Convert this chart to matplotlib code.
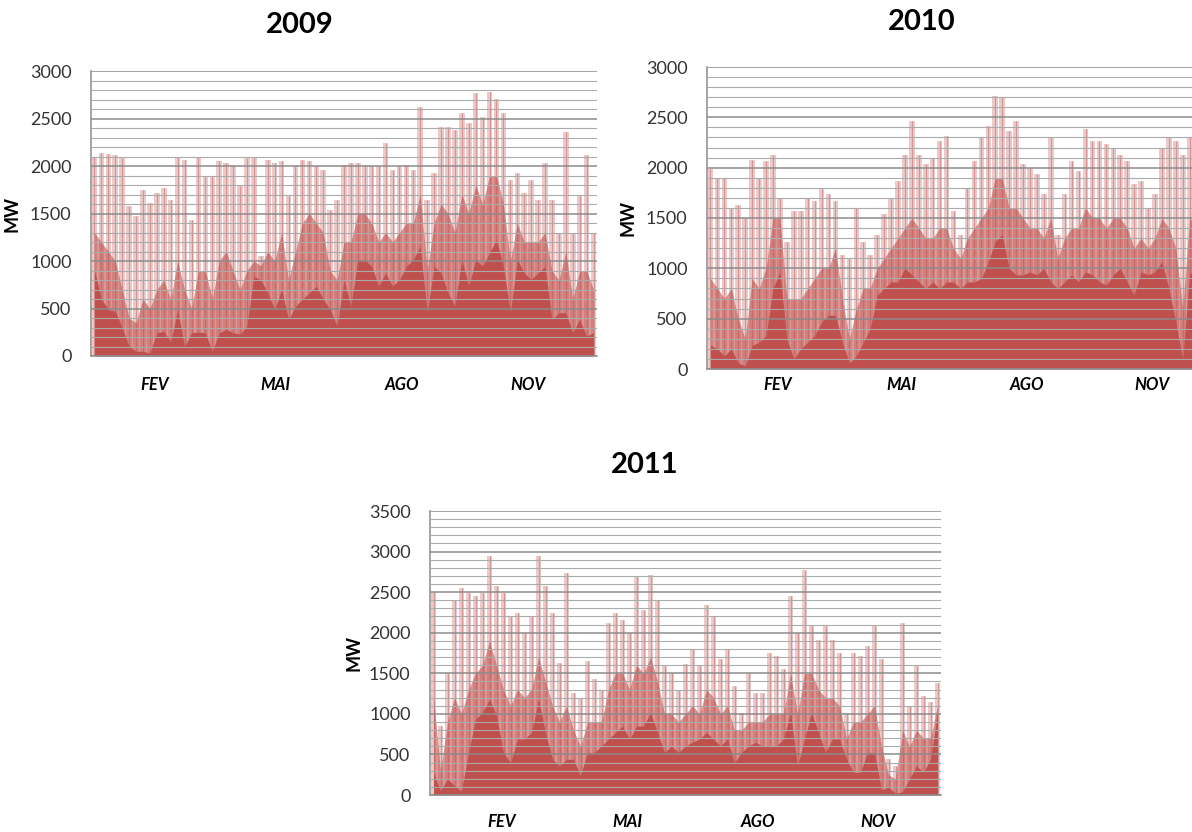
"""Hourly wind output 2009-2011 (MW), three panels -> out.png"""
import numpy as np
import matplotlib
matplotlib.use("Agg")
import matplotlib.pyplot as plt

# 5-day bins (73 per year): peak = tallest spike, dense = top of the packed red mass,
# solid = level where the fill is fully solid
BIN_DAYS = 5
MONTHS = ["FEV", "MAI", "AGO", "NOV"]

peak_2009 = [2100, 2140, 2130, 2120, 2080, 1575, 1470, 1750, 1610, 1715,
             1770, 1645, 2100, 2065, 1435, 2100, 1900, 1890, 2050, 2030,
             2010, 1785, 2080, 2080, 1050, 2065, 2030, 2050, 1680, 2000,
             2065, 2050, 2000, 1960, 1540, 1645, 2010, 2030, 2030, 2010,
             2000, 2000, 2240, 1960, 2000, 2010, 1960, 2625, 1645, 1925,
             2415, 2415, 2380, 2555, 2450, 2765, 2520, 2780, 2710, 2555,
             1855, 1925, 1715, 1855, 1645, 2030, 1645, 1295, 2360, 1295,
             1680, 2115, 1295]
dense_2009 = [1300, 1200, 1100, 1000, 700, 400, 350, 600, 500, 700,
              800, 600, 1000, 700, 500, 900, 900, 600, 1000, 1100,
              900, 700, 900, 1000, 950, 1100, 1000, 1300, 800, 1100,
              1400, 1500, 1400, 1300, 900, 800, 1200, 1200, 1500, 1500,
              1400, 1200, 1300, 1200, 1300, 1400, 1400, 1700, 900, 1400,
              1600, 1500, 1300, 1700, 1500, 1800, 1600, 1900, 1900, 1600,
              1000, 1400, 1200, 1200, 1200, 1300, 900, 800, 1100, 600,
              900, 900, 700]
solid_2009 = [900, 600, 490, 470, 300, 100, 50, 50, 30, 245,
              260, 150, 490, 100, 245, 250, 245, 50, 245, 280,
              245, 230, 315, 840, 800, 665, 490, 700, 385, 525,
              600, 665, 735, 600, 490, 315, 800, 525, 1015, 1015,
              945, 735, 875, 735, 805, 945, 1015, 1155, 455, 945,
              875, 665, 525, 1015, 735, 1015, 945, 1085, 1225, 945,
              455, 1015, 875, 805, 875, 945, 385, 455, 455, 245,
              385, 210, 245]

peak_2010 = [1985, 1900, 1900, 1600, 1630, 1500, 2080, 1900, 2065, 2130,
             1700, 1265, 1565, 1565, 1700, 1665, 1785, 1735, 1665, 1135,
             1100, 1600, 1265, 1135, 1335, 1535, 1700, 1865, 2130, 2465,
             2130, 2035, 2100, 2265, 2315, 1565, 1335, 1800, 2065, 2300,
             2415, 2715, 2700, 2365, 2465, 2035, 2000, 1935, 1735, 2300,
             1335, 1735, 2065, 1965, 2385, 2265, 2265, 2235, 2200, 2130,
             2065, 1835, 1865, 1600, 1735, 2200, 2300, 2265, 2130, 2300,
             2200, 2050, 1950]
dense_2010 = [900, 800, 700, 800, 500, 300, 900, 800, 1000, 1500,
              1500, 700, 700, 700, 800, 900, 1000, 1000, 1200, 700,
              300, 600, 800, 800, 1000, 1100, 1200, 1300, 1400, 1500,
              1400, 1300, 1300, 1400, 1400, 1200, 1100, 1300, 1400, 1500,
              1600, 1900, 1900, 1600, 1600, 1500, 1400, 1400, 1300, 1500,
              1100, 1300, 1400, 1400, 1600, 1500, 1500, 1400, 1500, 1500,
              1400, 1200, 1300, 1200, 1300, 1500, 1400, 1200, 600, 1500,
              1400, 1300, 1300]
solid_2010 = [235, 200, 130, 200, 60, 30, 235, 265, 335, 800,
              965, 300, 100, 200, 265, 335, 465, 535, 535, 265,
              60, 130, 265, 400, 735, 800, 865, 865, 1000, 935,
              865, 800, 865, 800, 865, 865, 800, 865, 865, 900,
              1065, 1265, 1335, 1000, 935, 935, 965, 935, 1000, 865,
              800, 865, 935, 865, 965, 935, 865, 835, 935, 1000,
              865, 735, 965, 935, 965, 1065, 800, 465, 100, 965,
              900, 850, 800]

peak_2011 = [2500, 850, 1505, 2405, 2550, 2490, 2450, 2490, 2940, 2570,
             2490, 2200, 2245, 2000, 2200, 2940, 2570, 2245, 1630, 2735,
             1260, 1180, 1650, 1425, 1300, 2120, 2245, 2160, 2000, 2695,
             2285, 2715, 2405, 1590, 1505, 1300, 1610, 1795, 1590, 2345,
             2200, 1670, 1795, 1340, 1015, 1505, 1260, 1260, 1750, 1710,
             1550, 2450, 2000, 2775, 2080, 1915, 2080, 1915, 1750, 1015,
             1750, 1710, 1835, 2080, 1670, 440, 360, 2120, 1095, 1590,
             1220, 1140, 1385]
dense_2011 = [1200, 300, 900, 1200, 1000, 1300, 1500, 1600, 1900, 1600,
              1300, 1100, 1300, 1200, 1300, 1700, 1400, 1100, 900, 1100,
              800, 600, 900, 900, 900, 1300, 1500, 1500, 1300, 1600,
              1500, 1700, 1400, 1000, 1000, 900, 1000, 1100, 1000, 1300,
              1200, 1000, 1100, 800, 800, 900, 900, 900, 1000, 1000,
              1000, 1500, 1000, 1500, 1500, 1300, 1200, 1200, 1100, 700,
              900, 900, 1000, 1100, 600, 250, 200, 800, 600, 800,
              700, 700, 1100]
solid_2011 = [280, 50, 200, 115, 50, 525, 935, 1015, 1180, 975,
              525, 400, 690, 690, 770, 1180, 770, 440, 360, 440,
              440, 240, 525, 525, 605, 690, 770, 850, 690, 850,
              850, 1015, 770, 525, 605, 525, 605, 650, 690, 770,
              690, 605, 690, 400, 525, 605, 650, 605, 605, 605,
              690, 1015, 360, 690, 1015, 770, 525, 690, 690, 440,
              280, 280, 525, 525, 60, 100, 20, 40, 200, 360,
              280, 440, 1015]

# month label positions (day of year)
month_days_2009 = [46, 133, 224, 315]
month_days_2010 = [51, 140, 230, 320]
month_days_2011 = [51, 141, 234, 320]

RED = "#C0504D"
GRID_MAJOR = "#8C8C8C"
GRID_MINOR = "#ABABAB"


def panel(fig, rect, peak, dense, solid, ymax, month_days, title_xy, title):
    ax = fig.add_axes(rect)
    peak = np.asarray(peak, float)
    dense = np.asarray(dense, float)
    solid = np.asarray(solid, float)
    x = np.arange(len(peak)) * BIN_DAYS + BIN_DAYS / 2

    ax.bar(x, peak, width=4.0, color=RED, alpha=0.3, lw=0)
    ax.vlines(x, 0, peak, color=RED, alpha=0.45, lw=0.8)
    ax.fill_between(x, 0, dense, color=RED, alpha=0.6, lw=0)
    ax.fill_between(x, 0, solid, color=RED, lw=0)

    ax.set_xlim(0, 365)
    ax.set_ylim(0, ymax)
    ax.set_yticks(np.arange(0, ymax + 1, 500))
    ax.set_yticks(np.arange(0, ymax + 1, 100), minor=True)
    ax.set_axisbelow(False)
    ax.grid(True, which="major", axis="y", color=GRID_MAJOR, lw=1.1)
    ax.grid(True, which="minor", axis="y", color=GRID_MINOR, lw=0.8)
    ax.tick_params(axis="y", which="both", length=0, pad=14, labelsize=13, labelcolor="#333333")
    for lab in ax.get_yticklabels():
        lab.set_family("Lato")

    ax.set_xticks(month_days)
    ax.set_xticklabels(MONTHS, fontstyle="italic", fontweight="bold", family="Lato")
    ax.tick_params(axis="x", length=0, pad=15, labelsize=12)

    for s in ("top", "right"):
        ax.spines[s].set_visible(False)
    for s in ("left", "bottom"):
        ax.spines[s].set_color(GRID_MAJOR)
        ax.spines[s].set_linewidth(1.1)

    ax.set_ylabel("MW", fontsize=13, fontweight="bold", family="Lato")
    ax.yaxis.set_label_coords(-0.14, 0.5)
    fig.text(title_xy[0] / 1192, 1 - title_xy[1] / 832, title, ha="center", va="center",
             fontsize=21, fontweight="bold", family="Lato")
    return ax


def main():
    fig = plt.figure(figsize=(11.92, 8.32), dpi=100)
    W, H = 1192, 832
    panel(fig, [91 / W, 1 - 356 / H, 506 / W, 285 / H], peak_2009, dense_2009, solid_2009,
          3000, month_days_2009, (300, 25), "2009")
    ax2 = panel(fig, [707 / W, 1 - 369 / H, 507 / W, 302 / H], peak_2010, dense_2010, solid_2010,
                3000, month_days_2010, (922, 22), "2010")
    ax3 = panel(fig, [430 / W, 1 - 795 / H, 511 / W, 284 / H], peak_2011, dense_2011, solid_2011,
                3500, month_days_2011, (645, 465), "2011")
    ax2.tick_params(axis="x", pad=6)
    ax3.tick_params(axis="x", pad=14)
    ax3.yaxis.set_label_coords(-0.133, 0.5)
    fig.savefig("out.png", dpi=100)
    plt.close(fig)


if __name__ == "__main__":
    main()
